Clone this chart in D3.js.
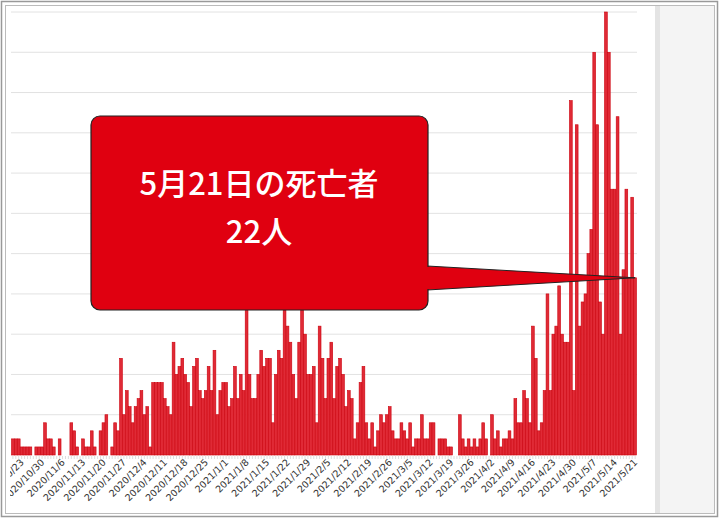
<!DOCTYPE html>
<html><head><meta charset="utf-8">
<script src="https://cdn.jsdelivr.net/npm/d3@7"></script>
<style>body{margin:0;background:#fff}</style></head>
<body><svg id="c" width="720" height="519"></svg>
<script>
const startDate = "2020-10-20";
const deaths = [2,2,2,1,1,1,1,0,1,1,1,4,2,2,1,0,2,0,0,0,4,3,1,0,2,1,1,3,1,0,3,4,5,0,1,4,3,12,5,8,6,4,6,7,8,5,6,1,9,9,9,9,7,6,5,14,10,11,12,10,9,6,11,12,8,7,8,11,8,13,5,8,9,9,6,
7,11,7,10,8,19,10,7,7,10,13,11,12,12,4,10,13,12,18,16,14,10,7,14,18,15,10,10,11,4,16,12,7,12,14,7,11,12,10,6,8,7,2,4,9,11,4,2,4,1,3,5,4,5,6,3,2,2,4,3,2,4,1,2,2,5,2,2,4,4,0,2,2,2,1,1,0,0,
5,2,1,2,1,2,1,2,4,2,0,5,2,3,1,2,2,3,2,7,4,4,8,7,4,16,12,3,4,8,20,8,15,16,21,15,14,14,44,8,41,16,19,20,25,28,50,41,19,15,55,50,33,33,42,15,23,33,22,32,22];
const calloutLines = ["5月21日の死亡者","22人"];
const yMax = 55, yStep = 5;

const parse = d3.timeParse("%Y-%m-%d");
const t0 = parse(startDate);
const data = deaths.map((v,i)=>({date:d3.timeDay.offset(t0,i), v}));
const svg = d3.select("#c");

svg.append("rect").attr("x",5.5).attr("y",5.5).attr("width",709).attr("height",508).attr("fill","#fff");
svg.append("rect").attr("x",655).attr("y",6).attr("width",59).attr("height",507).attr("fill","#f4f4f4");
svg.append("rect").attr("x",655).attr("y",6).attr("width",5).attr("height",507).attr("fill","#e4e4e4");

const x = d3.scaleBand().domain(data.map(d=>d.date)).range([11.5,636.5]).paddingInner(0.05);
const y = d3.scaleLinear().domain([0,yMax]).range([455,12]);

const g = svg.append("g");
g.selectAll(".grid").data(d3.range(yStep,yMax+1,yStep)).join("line")
 .attr("x1",11).attr("x2",637).attr("y1",d=>y(d)).attr("y2",d=>y(d)).attr("stroke","#e2e2e2");
g.selectAll(".tk").data(data).join("line")
 .attr("x1",d=>x(d.date)+x.bandwidth()/2).attr("x2",d=>x(d.date)+x.bandwidth()/2)
 .attr("y1",456).attr("y2",459).attr("stroke","#ddd");
g.selectAll(".bar").data(data).join("rect")
 .attr("x",d=>x(d.date)).attr("width",x.bandwidth())
 .attr("y",d=>y(d.v)).attr("height",d=>y(0)-y(d.v))
 .attr("fill","#e02a36").attr("stroke","#cc000c").attr("stroke-width",0.6);

const endDate = data[data.length-1].date;
const tickDates = data.filter(d=>Math.round((endDate-d.date)/864e5)%7===0).map(d=>d.date);
const fmt = d3.timeFormat("%Y/%-m/%-d");
g.selectAll(".lab").data(tickDates).join("text")
 .attr("transform",d=>`translate(${x(d)+x.bandwidth()/2+3},${463}) rotate(-45)`)
 .attr("text-anchor","end").attr("font-family","DejaVu Sans, sans-serif").attr("font-size",9.5)
 .attr("fill","#333").text(fmt);
svg.append("rect").attr("x",0).attr("y",440).attr("width",10).attr("height",79).attr("fill","#fff");
svg.append("rect").attr("x",1.5).attr("y",1.5).attr("width",716).attr("height",515).attr("fill","none").attr("stroke","#999").attr("stroke-width",1.5);
svg.append("rect").attr("x",5.5).attr("y",5.5).attr("width",709).attr("height",508).attr("fill","none").attr("stroke","#bbb");

const last = data[data.length-1];
const px = x(last.date)+x.bandwidth()/2, py = y(last.v);
const c = svg.append("g");
c.append("path").attr("d",`M427,266 L${px},${py} L427,290 Z`).attr("fill","#e00010").attr("stroke","#222").attr("stroke-width",1);
c.append("rect").attr("x",91).attr("y",116).attr("width",337).attr("height",194).attr("rx",9)
 .attr("fill","#e00010").attr("stroke","#222").attr("stroke-width",1.2);
c.append("rect").attr("x",420).attr("y",267).attr("width",12).attr("height",22).attr("fill","#e00010");
c.selectAll("text").data(calloutLines).join("text").attr("x",259).attr("y",(d,i)=>195+i*48)
 .attr("text-anchor","middle").attr("fill","#fff").attr("font-size",31).attr("font-weight",500)
 .attr("font-family","Noto Sans CJK JP, sans-serif").text(d=>d);
</script></body></html>
